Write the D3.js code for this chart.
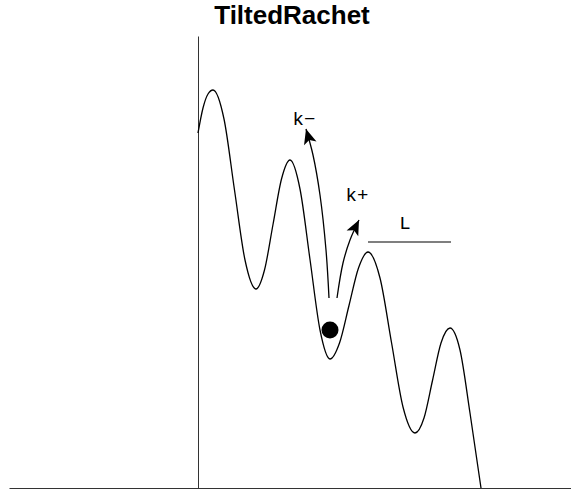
<!DOCTYPE html>
<html>
<head>
<meta charset="utf-8">
<script src="https://cdn.jsdelivr.net/npm/d3@7"></script>
<style>
    body { margin: 0; background: #fff; }
    .label { font-family: "Liberation Mono", "Courier New", monospace; font-size: 19px; fill: #000; }
    .title { font-family: "Liberation Sans", Arial, sans-serif; font-weight: bold; font-size: 26px; }
</style>
</head>
<body>
<script>
window.onload = main;

//region Data
// potential curve (x, V)
const curve_x = [0, 0.125, 0.25, 0.375, 0.65, 0.9125, 1.175, 1.45, 1.6625, 1.875, 2.0875, 2.3,
    2.55, 2.8, 3.05, 3.3, 3.5375, 3.775, 4.0125, 4.25, 4.55, 4.8375, 5.125, 5.425,
    5.65, 5.8625, 6.075, 6.3, 6.55, 6.8, 7.075];
const curve_y = [8.875, 9.5, 9.85, 9.95, 9.225, 7.45, 5.7, 4.975, 5.45, 6.5875, 7.725, 8.2,
    7.475, 5.7125, 3.95, 3.225, 3.625, 4.5625, 5.5, 5.9, 5.25, 3.6375, 2.025, 1.375,
    1.75, 2.6875, 3.625, 4.0, 3.45, 1.875, 0];

// arrows (hopping out of the well)
const arrow_kminus_x = [3.275, 3.2, 3.05, 2.875, 2.7];
const arrow_kminus_y = [4.75, 5.95, 7.325, 8.325, 8.975];
const arrow_kplus_x = [3.475, 3.625, 3.8, 4.025];
const arrow_kplus_y = [4.75, 5.625, 6.2, 6.7];

// particle sitting in the well
const ball = {x: 3.3, y: 3.95};

// period marker
const period_x = [4.25, 6.325];
const period_y = 6.15;

const labels = ['k\u2212', 'k+', 'L'];
const labels_x = [2.65, 3.975, 5.175];
const labels_y = [9.075, 7.175, 6.475];

const title = 'TiltedRachet';
//endregion

const svgWidth = 571;
const svgHeight = 494;

const config = {
    x_domain: [-4.725, 9.325],
    y_domain: [0, 11.3],
    x_range: [9, 571],
    y_range: [488, 36]
}

function main() {
    const svg = d3.select('body')
        .append('svg')
        .attr('width', svgWidth)
        .attr('height', svgHeight);

    const scaleX = d3.scaleLinear().domain(config.x_domain).range(config.x_range);
    const scaleY = d3.scaleLinear().domain(config.y_domain).range(config.y_range);

    svg.append('defs').append('marker')
        .attr('id', 'head')
        .attr('viewBox', '-16 -7 17 14')
        .attr('markerUnits', 'userSpaceOnUse')
        .attr('markerWidth', 17)
        .attr('markerHeight', 14)
        .attr('refX', 0)
        .attr('refY', 0)
        .attr('orient', 'auto')
        .append('path')
        .attr('d', 'M0,0 L-15,-6.5 L-11.5,0 L-15,6.5 Z')
        .attr('fill', '#000');

    // axes, no ticks
    svg.append('g')
        .attr('transform', `translate(0, ${scaleY(0)})`)
        .call(d3.axisBottom(scaleX).ticks(0).tickSizeOuter(0))
        .call(g => g.select('.domain').attr('stroke', '#333'));

    svg.append('g')
        .attr('transform', `translate(${scaleX(0)}, 0)`)
        .call(d3.axisLeft(scaleY).ticks(0).tickSizeOuter(0))
        .call(g => g.select('.domain').attr('stroke', '#333'));

    // potential
    const curve_data = d3.zip(curve_x, curve_y);
    svg.append('path')
        .datum(curve_data)
        .attr('fill', 'none')
        .attr('stroke', '#000')
        .attr('stroke-width', 1.3)
        .attr('d', d3.line()
            .x(d => scaleX(d[0]))
            .y(d => scaleY(d[1]))
            .curve(d3.curveMonotoneX));

    // arrows
    const arrow_line = d3.line()
        .x(d => scaleX(d[0]))
        .y(d => scaleY(d[1]))
        .curve(d3.curveCatmullRom);
    svg.append('g').selectAll('path')
        .data([d3.zip(arrow_kminus_x, arrow_kminus_y), d3.zip(arrow_kplus_x, arrow_kplus_y)])
        .join('path')
        .attr('fill', 'none')
        .attr('stroke', '#000')
        .attr('stroke-width', 1.3)
        .attr('marker-end', 'url(#head)')
        .attr('d', arrow_line);

    // ball
    svg.append('circle')
        .attr('cx', scaleX(ball.x))
        .attr('cy', scaleY(ball.y))
        .attr('r', 8.5)
        .attr('fill', '#000');

    // L bar
    svg.append('line')
        .attr('x1', scaleX(period_x[0]))
        .attr('x2', scaleX(period_x[1]))
        .attr('y1', scaleY(period_y))
        .attr('y2', scaleY(period_y))
        .attr('stroke', '#000')
        .attr('stroke-width', 1.2);

    svg.append('g').selectAll('text')
        .data(labels)
        .join('text')
        .classed('label', true)
        .attr('x', (d, i) => scaleX(labels_x[i]))
        .attr('y', (d, i) => scaleY(labels_y[i]))
        .attr('text-anchor', 'middle')
        .text(d => d);

    svg.append('text')
        .classed('title', true)
        .attr('x', 292)
        .attr('y', 23.5)
        .attr('text-anchor', 'middle')
        .text(title);
}
</script>
</body>
</html>
